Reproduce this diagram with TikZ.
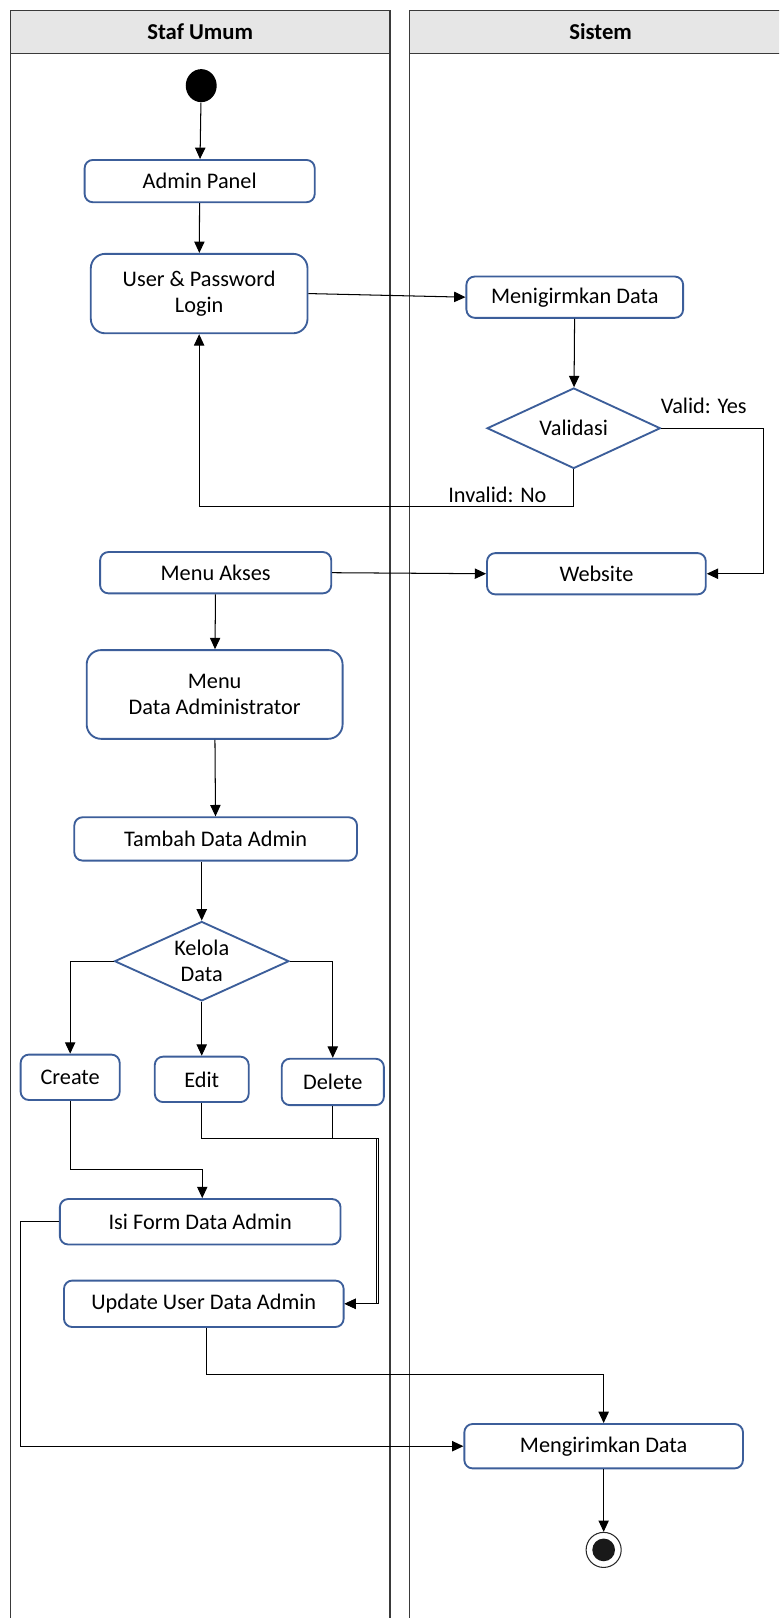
\documentclass[tikz,border=0pt]{standalone}
\usepackage{fontspec}
\setmainfont{Carlito}
\usetikzlibrary{arrows.meta,shapes.geometric,calc}
\definecolor{boxblue}{HTML}{3C5E9A}
\definecolor{hdr}{HTML}{E6E6E6}
\definecolor{lanec}{HTML}{3A3A3A}
\begin{document}
\begin{tikzpicture}[x=0.5pt,y=-0.5pt,
  txt/.style={font=\fontsize{10.8}{12.5}\selectfont},
  act/.style={txt, draw=boxblue, line width=0.9pt, rounded corners=4pt, fill=white, align=center, inner sep=0pt},
  bigact/.style={act, rounded corners=7pt},
  dec/.style={txt, shape=diamond, draw=boxblue, line width=0.9pt, fill=white, align=center, inner sep=0pt},
  flow/.style={draw=black, line width=0.5pt, -{Triangle[length=5.5pt,width=5pt]}},
  plain/.style={draw=black, line width=0.5pt},
  lanel/.style={draw=lanec, line width=0.6pt},
  hdrtxt/.style={font=\fontsize{11}{13}\selectfont\bfseries}]
\useasboundingbox (0,0) rectangle (755,1568);
\clip (0,0) rectangle (755,1568);
% swimlanes
\fill[hdr] (10,10) rectangle (378,52);
\fill[hdr] (397,10) rectangle (760,52);
\draw[lanel] (10,1570) -- (10,10) -- (378,10) -- (378,1570);
\draw[lanel] (10,52) -- (378,52);
\draw[lanel] (397,1570) -- (397,10) -- (760,10);
\draw[lanel] (397,52) -- (760,52);
\node[hdrtxt] (h1) at (194,31) {Staf Umum};
\node[hdrtxt] (h2) at (582,31) {Sistem};
% nodes
\node[ellipse, fill=black, minimum width=15pt, minimum height=16pt, inner sep=0pt] (start) at (195,83) {};
\node[act, minimum width=111.5pt, minimum height=20.5pt] (admin) at (193.5,175.5) {Admin Panel};
\node[bigact, minimum width=105pt, minimum height=38.5pt] (login) at (193,284.5) {User \& Password\\Login};
\node[act, minimum width=105pt, minimum height=20pt] (menig) at (557,288) {Menigirmkan Data};
\node[dec, minimum width=84pt, minimum height=39pt] (valid) at (556,415) {};
\node[txt] (validt) at (valid.center) {Validasi};
\node[act, minimum width=106pt, minimum height=20pt] (web) at (578,556) {Website};
\node[act, minimum width=112pt, minimum height=20pt] (akses) at (209,555) {Menu Akses};
\node[bigact, minimum width=124pt, minimum height=43pt] (mda) at (208,673) {Menu\\Data Administrator};
\node[act, minimum width=137pt, minimum height=21pt] (tambah) at (209,813) {Tambah Data Admin};
\node[dec, minimum width=84.5pt, minimum height=38.5pt] (kelola) at (195.5,931.5) {};
\node[txt, align=center] (kelolat) at (kelola.center) {Kelola\\Data};
\node[act, minimum width=48pt, minimum height=22pt] (create) at (68,1044) {Create};
\node[act, minimum width=45.5pt, minimum height=22pt] (edit) at (195.5,1046) {Edit};
\node[act, minimum width=49.5pt, minimum height=22.5pt] (delete) at (322.5,1048.5) {Delete};
\node[act, minimum width=136pt, minimum height=22pt] (isi) at (194,1184) {Isi Form Data Admin};
\node[act, minimum width=135.5pt, minimum height=22.5pt] (update) at (197.5,1263.5) {Update User Data Admin};
\node[act, minimum width=135pt, minimum height=21.5pt] (kirim) at (585,1401.5) {Mengirimkan Data};
\node[circle, draw=black!85, line width=0.5pt, fill=white, minimum size=17pt, inner sep=0pt] (end) at (585,1502) {};
\node[circle, fill=black!90, minimum size=11pt, inner sep=0pt] (endin) at (end.center) {};
% labels
\node[txt] (lyes) at (682,393) {Valid: Yes};
\node[txt] (lno) at (482,480) {Invalid: No};
% connectors
\draw[flow] (start) -- (admin);
\draw[flow] (admin) -- (login);
\draw[flow] (login.east) -- (menig.west);
\draw[flow] (menig) -- (valid);
\draw[flow] (valid.south) -- ++(0,36) -| (login.south);
\draw[flow] (valid.east) -- ++(99,0) |- (web.east);
\draw[flow] (akses.east) -- (web.west);
\draw[flow] (akses) -- (mda);
\draw[flow] (mda) -- (tambah);
\draw[flow] (tambah.south -| kelola.north) -- (kelola.north);
\draw[flow] (kelola.west) -| (create.north);
\draw[flow] (kelola.south) -- (edit.north);
\draw[flow] (kelola.east) -| (delete.north);
\coordinate (cbend) at (196,1133);
\draw[flow] (create.south) |- (cbend) -- (cbend |- isi.north);
\coordinate (ebend) at (365,1103);
\coordinate (dbend) at (367,1103);
\draw[flow] (edit.south) |- (ebend) |- (update.east);
\draw[flow] (delete.south) |- (dbend) |- (update.east);
\coordinate (ileft) at (20,1184);
\draw[flow] (isi.west) -- (ileft) |- (kirim.west);
\coordinate (ubend) at (200,1332);
\draw[flow] (update.south -| ubend) -- (ubend) -| (kirim.north);
\draw[flow] (kirim) -- (end);
\end{tikzpicture}
\end{document}
